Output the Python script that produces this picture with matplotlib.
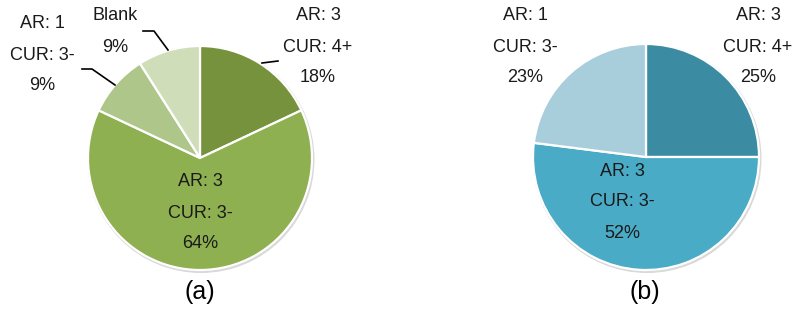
import matplotlib
matplotlib.use("Agg")
import matplotlib.pyplot as plt
from matplotlib.patches import Circle

plt.rcParams['font.family'] = ['Liberation Sans', 'DejaVu Sans']

# Data
labels_a = ["AR: 3\nCUR: 4+", "AR: 3\nCUR: 3-", "AR: 1\nCUR: 3-", "Blank"]
values_a = [18, 64, 9, 9]
colors_a = ["#77923C", "#8FB050", "#AEC68A", "#CFDDB8"]

labels_b = ["AR: 3\nCUR: 4+", "AR: 3\nCUR: 3-", "AR: 1\nCUR: 3-"]
values_b = [25, 52, 23]
colors_b = ["#3B8BA3", "#4AABC6", "#A8CDDB"]

captions = ["(a)", "(b)"]

W, H = 797, 316
fig = plt.figure(figsize=(W / 100, H / 100), dpi=100)
ax = fig.add_axes([0, 0, 1, 1])
ax.set_xlim(0, W)
ax.set_ylim(0, H)
ax.set_aspect('equal')
ax.axis('off')

def Y(y):
    return H - y

FS = 13

def draw_pie(values, colors, center, radius):
    # soft shadow
    ax.add_patch(Circle((center[0] + 1, center[1] - 1.5), radius + 1.5,
                        facecolor="#d9d9d9", edgecolor="none", zorder=0))
    ax.pie(values, colors=colors, startangle=90, counterclock=False,
           center=center, radius=radius, frame=True,
           wedgeprops=dict(edgecolor="white", linewidth=1.6, zorder=1))

# Pie (a)
ca = (200, Y(158))
draw_pie(values_a, colors_a, ca, 112)
# Pie (b)
cb = (646, Y(157))
draw_pie(values_b, colors_b, cb, 113)

ax.set_xlim(0, W)
ax.set_ylim(0, H)
ax.axis('off')

def label(x, y, text, pct):
    lines = text.split("\n") + [f"{pct}%"]
    n = len(lines)
    step = 31
    for i, ln in enumerate(lines):
        ax.text(x, Y(y + i * step), ln, ha='center', va='center',
                fontsize=FS, color='#1a1a1a', zorder=5)

# (a) labels
label(318, 16, labels_a[0], values_a[0])
label(200, 182, labels_a[1], values_a[1])
label(42, 24, labels_a[2], values_a[2])
label(115, 16, labels_a[3], values_a[3])

# leader lines (a)
ax.plot([262, 278], [Y(63), Y(61)], color='black', lw=1.2, zorder=4)
ax.plot([143, 154, 168], [Y(31), Y(31), Y(50)], color='black', lw=1.2, zorder=4)
ax.plot([82, 92, 115], [Y(69), Y(69), Y(85)], color='black', lw=1.2, zorder=4)

# (b) labels
label(758, 16, labels_b[0], values_b[0])
label(622, 171, labels_b[1], values_b[1])
label(525, 16, labels_b[2], values_b[2])

# captions
ax.text(200, Y(292), captions[0], ha='center', va='center', fontsize=18, color='black')
ax.text(645, Y(292), captions[1], ha='center', va='center', fontsize=18, color='black')

fig.savefig("out.png", dpi=100, facecolor='white')
